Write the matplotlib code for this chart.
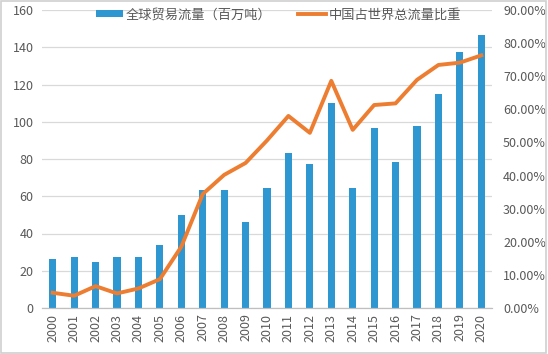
import matplotlib.pyplot as plt
from matplotlib.ticker import FuncFormatter
from matplotlib.patches import Rectangle

plt.rcParams['font.family'] = ['Noto Sans CJK SC', 'DejaVu Sans']

years = [str(y) for y in range(2000, 2021)]
trade_flow = [26.1, 27.6, 24.5, 27.6, 27.2, 34.0, 49.8, 63.4, 63.4, 46.3, 64.6,
              83.0, 77.3, 110.0, 64.3, 96.5, 78.4, 97.9, 114.7, 137.6, 146.8]
china_share = [4.6, 3.7, 6.6, 4.4, 5.9, 8.7, 18.5, 34.4, 40.2, 43.8, 50.6,
               58.0, 52.9, 68.6, 53.8, 61.3, 61.8, 68.9, 73.4, 74.1, 76.3]

bar_label = '全球贸易流量（百万吨）'
line_label = '中国占世界总流量比重'

text_color = '#595959'
grid_color = '#D9D9D9'

fig = plt.figure(figsize=(5.48, 3.54), dpi=100)
ax = fig.add_axes([42 / 548, 1 - 308 / 354, 450 / 548, 298 / 354])
ax2 = ax.twinx()

x = list(range(len(years)))
ax.bar(x, trade_flow, width=0.33, color='#2E96D0', label=bar_label, zorder=2)
ax2.plot(x, china_share, color='#ED7D31', linewidth=2.8, label=line_label,
         solid_joinstyle='round', zorder=3)

ax.set_ylim(0, 160)
ax.set_yticks(range(0, 161, 20))
ax2.set_ylim(0, 90)
ax2.set_yticks(range(0, 91, 10))
ax2.yaxis.set_major_formatter(FuncFormatter(lambda v, p: f'{v:.2f}%'))
ax.set_xlim(-0.5, len(years) - 0.5)
ax.set_xticks(x)
ax.set_xticklabels(years, rotation=90)

ax.grid(axis='y', color=grid_color, linewidth=0.9, zorder=0)
ax.set_axisbelow(True)
for a in (ax, ax2):
    for side in ('top', 'left', 'right'):
        a.spines[side].set_visible(False)
    a.spines['bottom'].set_color('#BFBFBF')
    a.tick_params(length=0, labelsize=9, colors=text_color)
ax.tick_params(axis='y', pad=6)
ax.tick_params(axis='x', pad=4)
ax2.tick_params(axis='y', pad=8)

ax.set_zorder(ax2.get_zorder() - 1)
ax2.patch.set_visible(False)
ax.patch.set_visible(True)

h1, l1 = ax.get_legend_handles_labels()
h2, l2 = ax2.get_legend_handles_labels()
leg = ax2.legend(h1 + h2, l1 + l2, loc='upper center', ncol=2, frameon=False,
                 fontsize=9.5, bbox_to_anchor=(0.525, 1.045), handlelength=2.1,
                 handleheight=0.45, columnspacing=2.0, handletextpad=0.2)
for t in leg.get_texts():
    t.set_color(text_color)

fig.patches.append(Rectangle((0.002, 0.003), 0.995, 0.994, transform=fig.transFigure,
                             fill=False, edgecolor='#D0D0D0', linewidth=1.2))

fig.savefig('out.png', dpi=100)
